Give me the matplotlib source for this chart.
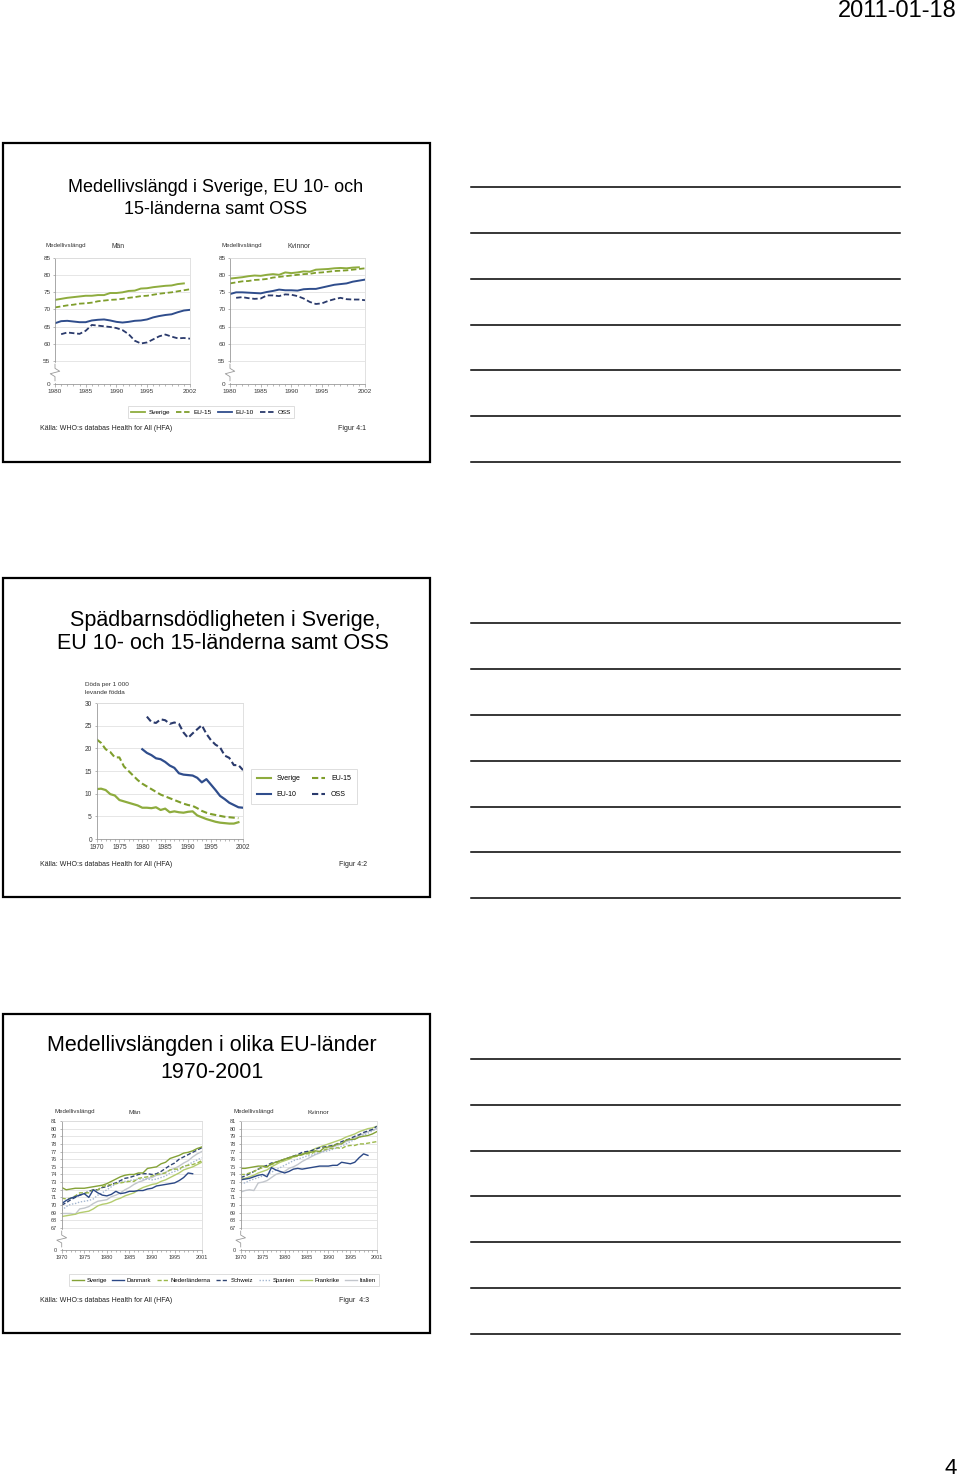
import matplotlib
matplotlib.use("Agg")
import matplotlib.pyplot as plt
from matplotlib.lines import Line2D
from matplotlib.patches import Rectangle

plt.rcParams['font.family'] = ['Liberation Sans', 'DejaVu Sans']

# ---- data: Figur 4:1 (medellivslängd 1980-2002) ----
years_41 = list(range(1980, 2003))
man_sverige = [72.8, 73.1, 73.4, 73.6, 73.8, 74.0, 74.0, 74.2, 74.2, 74.8, 74.8, 75.0,
               75.4, 75.5, 76.1, 76.2, 76.5, 76.7, 76.9, 77.0, 77.4, 77.6]          # 1980-2001
man_eu15 = [70.6, 70.9, 71.2, 71.4, 71.7, 71.8, 72.0, 72.4, 72.6, 72.8, 72.9, 73.1,
            73.4, 73.6, 73.9, 74.0, 74.3, 74.6, 74.8, 75.0, 75.3, 75.6, 75.9]
man_eu10 = [66.0, 66.6, 66.7, 66.5, 66.3, 66.3, 66.8, 67.0, 67.1, 66.8, 66.4, 66.2,
            66.4, 66.7, 66.8, 67.1, 67.7, 68.1, 68.4, 68.6, 69.2, 69.7, 69.9]
man_oss = [62.8, 63.3, 63.1, 62.9, 63.8, 65.5, 65.3, 65.1, 64.9, 64.6, 64.0, 62.8,
           60.9, 60.1, 60.4, 61.3, 62.2, 62.7, 62.1, 61.6, 61.7, 61.5]               # 1981-2002
fem_sverige = [79.0, 79.2, 79.4, 79.7, 79.9, 79.8, 80.1, 80.3, 80.1, 80.8, 80.6, 80.8,
               81.1, 81.0, 81.6, 81.7, 81.8, 82.0, 82.1, 82.0, 82.2, 82.3]
fem_eu15 = [77.6, 77.9, 78.2, 78.3, 78.6, 78.7, 78.9, 79.3, 79.5, 79.7, 79.9, 80.1,
            80.3, 80.4, 80.7, 80.8, 81.0, 81.2, 81.3, 81.4, 81.6, 81.8, 82.0]
fem_eu10 = [74.5, 75.0, 75.0, 74.9, 74.8, 74.7, 75.1, 75.4, 75.8, 75.6, 75.6, 75.5,
            75.9, 76.0, 76.0, 76.4, 76.8, 77.2, 77.4, 77.6, 78.1, 78.4, 78.7]
fem_oss = [73.4, 73.6, 73.3, 73.1, 73.2, 74.1, 74.1, 73.9, 74.4, 74.3, 73.9, 73.2,
           72.2, 71.6, 71.8, 72.5, 73.0, 73.4, 73.0, 72.9, 72.9, 72.7]

# ---- data: Figur 4:2 (döda per 1 000 levande födda) ----
years_42 = list(range(1970, 2003))
inf_sverige = [11.0, 11.1, 10.8, 9.9, 9.6, 8.6, 8.3, 8.0, 7.7, 7.4, 6.9, 6.9, 6.8, 7.0,
               6.4, 6.7, 5.9, 6.1, 5.9, 5.8, 6.0, 6.1, 5.2, 4.8, 4.4, 4.1, 3.8, 3.6,
               3.5, 3.4, 3.4, 3.7]                                                    # 1970-2001
inf_eu15 = [22.0, 21.2, 19.8, 19.2, 18.0, 18.0, 16.0, 15.0, 14.0, 13.0, 12.2, 11.6,
            11.0, 10.4, 9.8, 9.4, 9.0, 8.6, 8.2, 7.8, 7.5, 7.3, 6.8, 6.2, 5.8, 5.5,
            5.3, 5.1, 4.9, 4.8, 4.7, 4.6]                                             # 1970-2001
inf_eu10 = [19.8, 19.0, 18.5, 17.8, 17.6, 17.0, 16.2, 15.7, 14.5, 14.2, 14.1, 14.0,
            13.5, 12.5, 13.2, 12.0, 10.8, 9.5, 8.8, 8.0, 7.5, 7.0, 6.9]               # 1980-2002
inf_oss = [27.0, 25.8, 25.6, 26.4, 26.2, 25.4, 25.7, 25.4, 23.5, 22.3, 23.3, 24.2,
           25.1, 23.2, 21.8, 20.8, 20.2, 18.4, 17.9, 16.3, 16.3, 15.2]                # 1981-2002

# ---- data: Figur 4:3 (EU-länder 1970-2001) ----
years_43 = list(range(1970, 2002))
countries = ['Sverige', 'Danmark', 'Nederländerna', 'Schweiz', 'Spanien', 'Frankrike', 'Italien']
men_43 = {
    'Sverige': [72.3, 72.0, 72.1, 72.2, 72.2, 72.2, 72.3, 72.4, 72.5, 72.6, 72.8, 73.1, 73.4, 73.7, 73.9, 74.0,
                74.0, 74.2, 74.2, 74.8, 74.9, 75.0, 75.4, 75.6, 76.1, 76.3, 76.5, 76.8, 76.9, 77.1, 77.4, 77.6],
    'Danmark': [70.2, 70.6, 70.9, 71.1, 71.3, 71.5, 71.0, 72.0, 71.6, 71.3, 71.2, 71.4, 71.8, 71.5, 71.6, 71.8,
                71.8, 71.9, 71.9, 72.1, 72.2, 72.5, 72.6, 72.7, 72.8, 72.9, 73.2, 73.6, 74.2, 74.1],
    'Nederländerna': [70.9, 70.8, 70.9, 71.2, 71.6, 71.6, 71.6, 72.0, 72.0, 72.4, 72.6, 72.7, 72.8, 72.9, 73.0, 73.1,
                      73.1, 73.5, 73.6, 73.7, 73.8, 74.0, 74.1, 74.2, 74.6, 74.7, 74.7, 75.1, 75.2, 75.3, 75.5, 75.8],
    'Schweiz': [70.0, 70.3, 70.7, 71.0, 71.3, 71.5, 71.8, 72.0, 72.0, 72.3, 72.4, 72.7, 72.9, 73.2, 73.5, 73.6,
                73.8, 74.0, 74.1, 74.1, 74.0, 74.1, 74.4, 74.8, 75.2, 75.5, 76.0, 76.3, 76.6, 76.9, 77.2, 77.5],
    'Spanien': [69.3, 69.8, 70.1, 70.2, 70.4, 70.5, 70.6, 70.8, 71.3, 71.6, 72.0, 72.4, 72.8, 73.0, 73.1, 73.2,
                73.3, 73.4, 73.4, 73.4, 73.3, 73.4, 73.6, 73.8, 74.2, 74.4, 74.6, 75.0, 75.3, 75.6, 75.9, 76.2],
    'Frankrike': [68.5, 68.6, 68.7, 68.8, 69.0, 69.1, 69.2, 69.5, 69.9, 70.1, 70.2, 70.4, 70.7, 70.9, 71.2, 71.4,
                  71.6, 72.0, 72.3, 72.5, 72.7, 72.8, 73.1, 73.3, 73.6, 73.9, 74.2, 74.6, 74.8, 75.0, 75.3, 75.6],
    'Italien': [68.9, 68.9, 68.9, 68.8, 69.5, 69.6, 69.8, 70.2, 70.5, 70.6, 70.7, 71.1, 71.3, 71.6, 72.0, 72.3,
                72.7, 73.0, 73.2, 73.5, 73.6, 73.9, 74.0, 74.3, 74.6, 74.8, 75.1, 75.5, 75.8, 76.3, 76.7, 77.0],
}
fem_43 = {
    'Sverige': [74.8, 74.8, 74.9, 75.0, 75.1, 75.1, 75.0, 75.4, 75.6, 75.8, 76.0, 76.2, 76.4, 76.5, 76.6, 76.8,
                76.9, 77.1, 77.0, 77.5, 77.6, 77.7, 78.0, 78.0, 78.5, 78.6, 78.6, 78.9, 79.0, 79.1, 79.3, 79.6],
    'Danmark': [73.3, 73.4, 73.5, 73.7, 73.9, 74.0, 73.7, 74.9, 74.6, 74.4, 74.2, 74.4, 74.7, 74.8, 74.7, 74.8,
                74.9, 75.0, 75.1, 75.1, 75.1, 75.2, 75.2, 75.6, 75.5, 75.4, 75.6, 76.2, 76.7, 76.5],
    'Nederländerna': [74.0, 74.0, 74.2, 74.4, 74.7, 74.9, 75.0, 75.3, 75.5, 75.8, 76.0, 76.1, 76.3, 76.4, 76.6, 76.7,
                      76.7, 77.0, 77.0, 77.2, 77.4, 77.4, 77.5, 77.4, 77.7, 77.8, 77.8, 78.0, 78.0, 78.1, 78.2, 78.3],
    'Schweiz': [73.6, 73.8, 74.1, 74.4, 74.7, 75.0, 75.2, 75.5, 75.6, 75.8, 76.0, 76.2, 76.4, 76.6, 76.9, 77.0,
                77.1, 77.3, 77.5, 77.6, 77.7, 77.8, 78.0, 78.3, 78.5, 78.7, 79.0, 79.2, 79.5, 79.7, 79.9, 80.3],
    'Spanien': [72.8, 72.9, 73.2, 73.4, 73.6, 73.8, 74.0, 74.3, 74.6, 74.9, 75.2, 75.5, 75.8, 76.0, 76.2, 76.4,
                76.5, 76.7, 76.9, 77.0, 77.1, 77.3, 77.5, 77.7, 78.0, 78.3, 78.6, 78.9, 79.1, 79.4, 79.7, 80.0],
    'Frankrike': [73.4, 73.5, 73.7, 73.9, 74.2, 74.4, 74.6, 75.0, 75.3, 75.6, 75.8, 76.0, 76.3, 76.5, 76.7, 76.9,
                  77.1, 77.4, 77.6, 77.8, 78.0, 78.2, 78.4, 78.6, 78.9, 79.1, 79.3, 79.6, 79.8, 80.0, 80.1, 80.3],
    'Italien': [71.7, 71.9, 72.0, 71.9, 72.9, 73.0, 73.2, 73.6, 74.0, 74.2, 74.4, 74.8, 75.0, 75.3, 75.7, 76.0,
                76.3, 76.6, 76.8, 77.1, 77.3, 77.6, 77.8, 78.0, 78.3, 78.5, 78.8, 79.1, 79.3, 79.6, 79.8, 80.0],
}

# ---- styles ----
C_SVE = '#8eac3e'
C_EU15 = '#7f9e2c'
C_EU10 = '#2f4d8c'
C_OSS = '#2a3a6c'
style_41 = {
    'Sverige': dict(color=C_SVE, ls='-'),
    'EU-15': dict(color=C_EU15, ls=(0, (3, 1.5))),
    'EU-10': dict(color=C_EU10, ls='-'),
    'OSS': dict(color=C_OSS, ls=(0, (3, 1.5))),
}
style_43 = {
    'Sverige': dict(color='#84a236', ls='-'),
    'Danmark': dict(color='#2b4886', ls='-'),
    'Nederländerna': dict(color='#9bb84a', ls=(0, (3, 1.5))),
    'Schweiz': dict(color='#2f4574', ls=(0, (3, 1.5))),
    'Spanien': dict(color='#a3b6d0', ls=(0, (1, 1.2))),
    'Frankrike': dict(color='#b4cc6e', ls='-'),
    'Italien': dict(color='#c2c6cc', ls='-'),
}

W, H = 960, 1479
fig = plt.figure(figsize=(W / 100, H / 100), dpi=100)


def fx(x):
    return x / W


def fy(y):
    return 1 - y / H


def box(l, t, r, b):
    return [l / W, 1 - b / H, (r - l) / W, (b - t) / H]


def ftext(x, y, s, **kw):
    fig.text(fx(x), fy(y), s, **kw)


def make_axes(l, t, r, b, xlim, xticks, yticks, ylabels, ylim, fs, brk=None):
    ax = fig.add_axes(box(l, t, r, b))
    ax.set_xlim(*xlim)
    ax.set_ylim(*ylim)
    ax.set_xticks(xticks)
    ax.set_xticks(range(xlim[0], xlim[1] + 1), minor=True)
    ax.set_yticks(yticks)
    ax.set_yticklabels(ylabels)
    ax.grid(axis='y', color='#e2e2e2', lw=0.6)
    ax.set_axisbelow(True)
    for s in ['top', 'right']:
        ax.spines[s].set_color('#dcdcdc')
        ax.spines[s].set_linewidth(0.6)
    for s in ['left', 'bottom']:
        ax.spines[s].set_color('#9a9a9a')
        ax.spines[s].set_linewidth(0.6)
    ax.tick_params(which='both', labelsize=fs, length=1.8, width=0.5, colors='#9a9a9a',
                   labelcolor='#3a3a3a', pad=1.5)
    ax.tick_params(which='minor', length=1.2)
    if brk is not None:
        lo, hi = brk
        mid = (lo + hi) / 2
        d = (hi - lo) * 0.18
        tr = ax.get_yaxis_transform()
        ax.plot([0, 0], [mid - 2 * d, mid + 2 * d], color='white', lw=2.5,
                transform=tr, clip_on=False, zorder=5)
        ax.plot([0, 0, -0.035, 0.035, 0, 0], [mid - 2 * d, mid - d, mid - 0.3 * d, mid + 0.3 * d, mid + d, mid + 2 * d],
                color='#9a9a9a', lw=0.6, transform=tr, clip_on=False, zorder=6)
    return ax


# ---- slide frames and note lines ----
for top in [143, 578, 1014]:
    fig.patches.append(Rectangle((fx(3), fy(top + 319)), 427 / W, 319 / H, fill=False,
                                 ec='black', lw=1.6, transform=fig.transFigure))
for ys in [[187, 233, 279, 325, 370, 416, 462],
           [623, 669, 715, 761, 807, 852, 898],
           [1059, 1105, 1151, 1196, 1242, 1288, 1334]]:
    for y in ys:
        fig.add_artist(Line2D([fx(471), fx(900)], [fy(y), fy(y)], color='black', lw=1.1))

ftext(957, 11, '2011-01-18', ha='right', va='center', fontsize=17,
      family=['Liberation Sans Narrow', 'Liberation Sans', 'DejaVu Sans'])
ftext(957, 1468, '4', ha='right', va='center', fontsize=16)

# ---- slide 1 ----
ftext(216, 187, 'Medellivslängd i Sverige, EU 10- och', ha='center', va='center', fontsize=13)
ftext(216, 210, '15-länderna samt OSS', ha='center', va='center', fontsize=13)

brk41 = 55 - 23 / 3.43
yt41 = [brk41, 55, 60, 65, 70, 75, 80, 85]
yl41 = ['0', '55', '60', '65', '70', '75', '80', '85']
for i, (l, r, title, data) in enumerate([
        (55, 190, 'Män', [man_sverige, man_eu15, man_eu10, man_oss]),
        (230, 365, 'Kvinnor', [fem_sverige, fem_eu15, fem_eu10, fem_oss])]):
    ax = make_axes(l, 258, r, 384, (1980, 2002), [1980, 1985, 1990, 1995, 2002],
                   yt41, yl41, (brk41, 85), 4.6, brk=(brk41, 55))
    sve, e15, e10, oss = data
    ax.plot(years_41[:len(sve)], sve, lw=1.4, **style_41['Sverige'])
    ax.plot(years_41, e15, lw=1.3, **style_41['EU-15'])
    ax.plot(years_41, e10, lw=1.4, **style_41['EU-10'])
    ax.plot(years_41[1:], oss, lw=1.3, **style_41['OSS'])
    ftext(l - 9, 246, 'Medellivslängd', fontsize=4.4, va='center', color='#333333')
    ftext(l + 57, 246, title, fontsize=4.9, va='center', color='#333333')

h41 = [Line2D([], [], lw=1.3, **style_41[k]) for k in style_41]
fig.legend(h41, list(style_41), loc='center', bbox_to_anchor=(fx(211), fy(412)), ncol=4,
           fontsize=4.6, frameon=True, fancybox=False, edgecolor='#cfcfcf', handlelength=2.2,
           columnspacing=1.0, handletextpad=0.5, borderpad=0.5).get_frame().set_linewidth(0.6)
ftext(40, 429, 'Källa: WHO:s databas Health for All (HFA)', fontsize=5, va='center', color='#222222')
ftext(338, 429, 'Figur 4:1', fontsize=5, va='center', color='#222222')

# ---- slide 2 ----
ftext(225, 620, 'Spädbarnsdödligheten i Sverige,', ha='center', va='center', fontsize=15.5)
ftext(223, 644, 'EU 10- och 15-länderna samt OSS', ha='center', va='center', fontsize=15.5)
ax = make_axes(96.5, 703, 243, 839, (1970, 2002), [1970, 1975, 1980, 1985, 1990, 1995, 2002],
               [0, 5, 10, 15, 20, 25, 30], ['0', '5', '10', '15', '20', '25', '30'], (0, 30), 4.8)
ax.plot(years_42[:len(inf_sverige)], inf_sverige, lw=1.6, **style_41['Sverige'])
ax.plot(years_42[:len(inf_eu15)], inf_eu15, lw=1.5, **style_41['EU-15'])
ax.plot(years_42[10:], inf_eu10, lw=1.6, **style_41['EU-10'])
ax.plot(years_42[11:], inf_oss, lw=1.5, **style_41['OSS'])
ftext(85, 685, 'Döda per 1 000', fontsize=4.6, va='center', color='#333333')
ftext(85, 693, 'levande födda', fontsize=4.6, va='center', color='#333333')
order = ['Sverige', 'EU-10', 'EU-15', 'OSS']
leg = fig.legend([Line2D([], [], lw=1.5, **style_41[k]) for k in order], order, loc='center',
                 bbox_to_anchor=(fx(304), fy(786.5)), ncol=2, fontsize=5, frameon=True, fancybox=False,
                 edgecolor='#cfcfcf', handlelength=2.0, columnspacing=1.6, handletextpad=0.8,
                 borderpad=0.9, labelspacing=1.3)
leg.get_frame().set_linewidth(0.6)
ftext(40, 865, 'Källa: WHO:s databas Health for All (HFA)', fontsize=5, va='center', color='#222222')
ftext(339, 865, 'Figur 4:2', fontsize=5, va='center', color='#222222')

# ---- slide 3 ----
ftext(212, 1046, 'Medellivslängden i olika EU-länder', ha='center', va='center', fontsize=15.5)
ftext(212, 1072, '1970-2001', ha='center', va='center', fontsize=15.5)
brk43 = 67 - 22 / 7.64
yt43 = [brk43] + list(range(67, 82))
yl43 = ['0'] + [str(v) for v in range(67, 82)]
for l, r, title, data in [(61.7, 201.7, 'Män', men_43), (240.7, 376.7, 'Kvinnor', fem_43)]:
    ax = make_axes(l, 1121, r, 1250, (1970, 2001), [1970, 1975, 1980, 1985, 1990, 1995, 2001],
                   yt43, yl43, (brk43, 81), 4.0, brk=(brk43, 67))
    for c in countries[::-1]:
        vals = data[c]
        ax.plot(years_43[:len(vals)], vals, lw=1.0, **style_43[c])
    ftext(l - 7, 1112, 'Medellivslängd', fontsize=4.4, va='center', color='#333333')
    ftext(l + 67, 1112, title, fontsize=4.6, va='center', color='#333333')

leg = fig.legend([Line2D([], [], lw=1.0, **style_43[c]) for c in countries], countries, loc='center',
                 bbox_to_anchor=(fx(224), fy(1280)), ncol=7, fontsize=4.3, frameon=True, fancybox=False,
                 edgecolor='#cfcfcf', handlelength=2.0, columnspacing=0.9, handletextpad=0.4, borderpad=0.5)
leg.get_frame().set_linewidth(0.6)
ftext(40, 1301, 'Källa: WHO:s databas Health for All (HFA)', fontsize=5, va='center', color='#222222')
ftext(339, 1301, 'Figur  4:3', fontsize=5, va='center', color='#222222')

fig.savefig('out.png', dpi=100)
